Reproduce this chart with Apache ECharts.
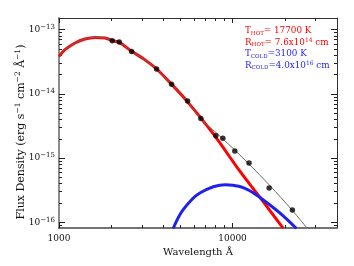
<!DOCTYPE html>
<html>
<head>
<meta charset="utf-8">
<script src="https://cdn.jsdelivr.net/npm/echarts@6/dist/echarts.min.js"></script>
<style>
html,body{margin:0;padding:0;background:#fff;}
#chart{width:354px;height:266px;}
</style>
</head>
<body>
<div id="chart"></div>
<script>
// ---- data (wavelength in Å, flux density in erg s^-1 cm^-2 Å^-1) ----
const obsWave = [2027, 2224, 2621, 3651, 4455, 5508, 6570, 8014, 8794, 10310, 12445, 16250, 22130];
const obsFlux = [6.74e-14, 6.43e-14, 4.59e-14, 2.44e-14, 1.41e-14, 7.74e-15, 4.15e-15, 2.23e-15, 2.03e-15, 1.29e-15, 8.39e-16, 3.42e-16, 1.56e-16];

const hotWave = [1000, 1083, 1236, 1411, 1612, 1840, 2027, 2224, 2621, 3100, 3651, 4455, 5400, 7732, 11020, 14364, 19560];
const hotFlux = [3.84e-14, 4.88e-14, 6.21e-14, 7.16e-14, 7.58e-14, 7.43e-14, 6.74e-14, 6.35e-14, 4.62e-14, 3.45e-14, 2.44e-14, 1.41e-14, 8.0e-15, 2.40e-15, 6.25e-16, 2.46e-16, 8.1e-17];

const coldWave = [4550, 5195, 6483, 9113, 11020, 12580, 14850, 18720, 23360];
const coldFlux = [8.0e-17, 1.57e-16, 2.86e-16, 3.85e-16, 3.62e-16, 3.10e-16, 2.29e-16, 1.40e-16, 8.0e-17];

const totWave = [1000, 1083, 1236, 1411, 1612, 1840, 2027, 2224, 2621, 3100, 3651, 4455, 5400, 6570, 8395, 10310, 12445, 16250, 22130, 26880];
const totFlux = [3.84e-14, 4.88e-14, 6.21e-14, 7.16e-14, 7.58e-14, 7.43e-14, 6.74e-14, 6.35e-14, 4.62e-14, 3.45e-14, 2.44e-14, 1.41e-14, 8.0e-15, 4.08e-15, 2.24e-15, 1.33e-15, 8.07e-16, 3.84e-16, 1.53e-16, 8.1e-17];

const xTickValues = [1000, 10000];
const yTickExponents = [-13, -14, -15, -16];
const xRange = [1000, 40000];
const yRange = [8.15e-17, 1.52e-13];

// ---- helpers ----
const L = Math.log10;
const pts = (w, f) => w.map((v, i) => [L(v), L(f[i])]);
const xMin = L(xRange[0]), xMax = L(xRange[1]);
const yMin = L(yRange[0]), yMax = L(yRange[1]);

const xMajor = xTickValues.map(L);
const xMinor = [];
for (let d = 1000; d <= 10000; d *= 10) for (let k = 2; k <= 9; k++) { const v = L(k * d); if (v < xMax) xMinor.push(v); }
const yMajor = yTickExponents.slice();
const yMinor = [];
for (let n = -17; n <= -13; n++) for (let k = 2; k <= 9; k++) { const v = L(k) + n; if (v > yMin && v < yMax) yMinor.push(v); }

const FONT = 'DejaVu Serif';
const red = '#ff0000', blue = '#1f1ff0';

function xAx(pos, ticks, len, showLine, lineColor, lineW, labels) {
  return {
    type: 'value', position: pos, min: xMin, max: xMax, gridIndex: 0,
    axisLine: { show: showLine, onZero: false, lineStyle: { color: lineColor, width: lineW } },
    axisTick: { show: true, inside: true, length: len, customValues: ticks, lineStyle: { color: '#222', width: 1 } },
    axisLabel: labels ? {
      show: true, customValues: xMajor, margin: 6, color: '#111', fontFamily: FONT, fontSize: 9,
      formatter: v => String(Math.round(Math.pow(10, v)))
    } : { show: false },
    splitLine: { show: false }
  };
}
function yAx(pos, ticks, len, showLine, lineColor, lineW, labels) {
  return {
    type: 'value', position: pos, min: yMin, max: yMax, gridIndex: 0,
    axisLine: { show: showLine, onZero: false, lineStyle: { color: lineColor, width: lineW } },
    axisTick: { show: true, inside: true, length: len, customValues: ticks, lineStyle: { color: '#222', width: 1 } },
    axisLabel: labels ? {
      show: true, customValues: yMajor, margin: 4, color: '#111',
      formatter: v => '{a|10}{b|−' + Math.abs(Math.round(v)) + '}',
      rich: {
        a: { fontFamily: FONT, fontSize: 9, lineHeight: 12, color: '#111' },
        b: { fontFamily: FONT, fontSize: 7, lineHeight: 8, verticalAlign: 'top', color: '#111' }
      }
    } : { show: false },
    splitLine: { show: false }
  };
}

const option = {
  animation: false,
  backgroundColor: '#fff',
  grid: { left: 59, right: 17, top: 18, bottom: 38, containLabel: false },
  xAxis: [
    Object.assign(xAx('bottom', xMajor, 5, true, '#444', 1.5, true), {
      name: 'Wavelength Å', nameLocation: 'middle', nameGap: 18,
      nameTextStyle: { fontFamily: FONT, fontSize: 10, color: '#111' }
    }),
    xAx('bottom', xMinor, 3, false, '#444', 1, false),
    xAx('top', xMajor, 5, true, '#333', 1, false),
    xAx('top', xMinor, 3, false, '#333', 1, false)
  ],
  yAxis: [
    yAx('left', yMajor, 6, true, '#8c8c8c', 2, true),
    yAx('left', yMinor, 3, false, '#888', 1, false),
    yAx('right', yMajor, 6, true, '#333', 1, false),
    yAx('right', yMinor, 3, false, '#333', 1, false)
  ],
  graphic: [
    {
      type: 'text', x: 21, y: 132, rotation: Math.PI / 2, silent: true,
      style: {
        text: '{a|Flux Density (erg s}{s|−1}{a| cm}{s|−2}{a| Å}{s|−1}{a|)}',
        align: 'center', verticalAlign: 'middle', fill: '#111',
        rich: {
          a: { fontFamily: FONT, fontSize: 11, lineHeight: 14, fill: '#111' },
          s: { fontFamily: FONT, fontSize: 7.5, lineHeight: 9, verticalAlign: 'top', fill: '#111' }
        }
      }
    },
    ...[
      ['{a|T}{s|HOT}{a|= 17700 K}', 31, red],
      ['{a|R}{s|HOT}{a|= 7.6x10}{p|14}{a| cm}', 42.5, red],
      ['{a|T}{s|COLD}{a|=3100 K}', 54, blue],
      ['{a|R}{s|COLD}{a|=4.0x10}{p|16}{a| cm}', 65.5, blue]
    ].map(([t, y, c]) => ({
      type: 'text', x: 245, y: y, silent: true,
      style: {
        text: t, align: 'left', verticalAlign: 'middle', fill: c,
        rich: {
          a: { fontFamily: FONT, fontSize: 8.8, lineHeight: 11, fill: c },
          s: { fontFamily: FONT, fontSize: 5.5, lineHeight: 7, verticalAlign: 'bottom', fill: c },
          p: { fontFamily: FONT, fontSize: 6, lineHeight: 7, verticalAlign: 'top', fill: c }
        }
      }
    }))
  ],
  series: [
    {
      type: 'line', name: 'hot', data: pts(hotWave, hotFlux), smooth: 0.35, symbol: 'none',
      lineStyle: { color: red, width: 3 }, clip: true, z: 2
    },
    {
      type: 'line', name: 'cold', data: pts(coldWave, coldFlux), smooth: 0.35, symbol: 'none',
      lineStyle: { color: blue, width: 3 }, clip: true, z: 2
    },
    {
      type: 'line', name: 'total', data: pts(totWave, totFlux), smooth: 0.35, symbol: 'none',
      lineStyle: { color: '#6a6a6a', width: 1 }, clip: true, z: 3
    },
    {
      type: 'scatter', name: 'obs', data: pts(obsWave, obsFlux), symbol: 'circle', symbolSize: 5.5,
      itemStyle: { color: '#000' }, z: 4
    }
  ]
};

const chart = echarts.init(document.getElementById('chart'), null, { renderer: 'canvas' });
chart.setOption(option);
</script>
</body>
</html>
